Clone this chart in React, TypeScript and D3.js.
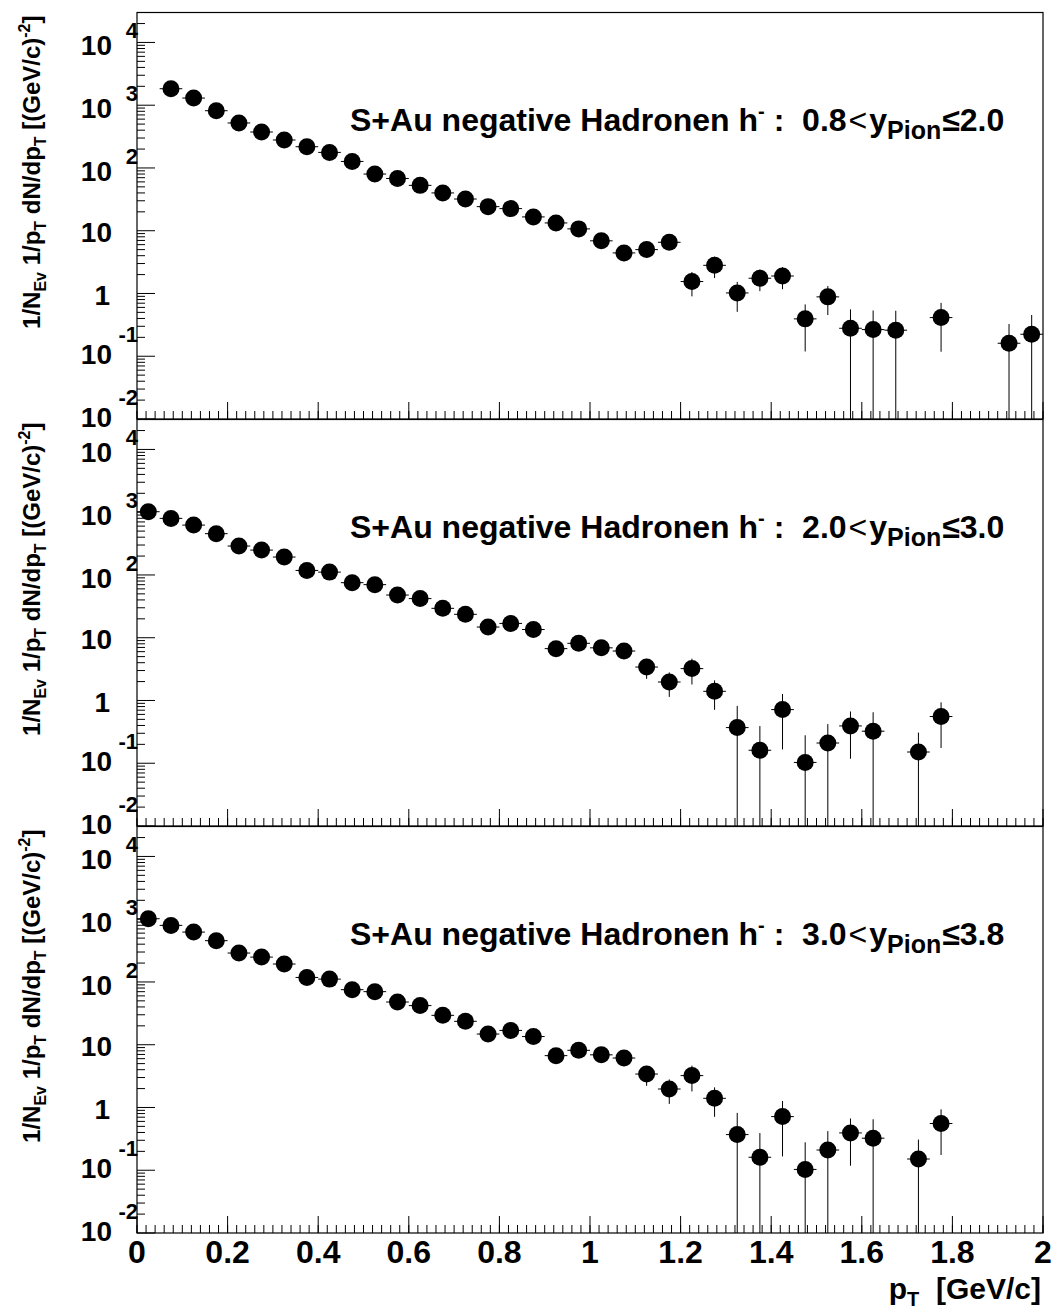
import React from "react";
import * as d3 from "d3";

// ---------- data ----------
const ptTop = [
  0.075, 0.125, 0.175, 0.225, 0.275, 0.325, 0.375, 0.425, 0.475, 0.525,
  0.575, 0.625, 0.675, 0.725, 0.775, 0.825, 0.875, 0.925, 0.975, 1.025,
  1.075, 1.125, 1.175, 1.225, 1.275, 1.325, 1.375, 1.425, 1.475, 1.525,
  1.575, 1.625, 1.675, 1.775, 1.925, 1.975,
];
const valTop = [
  1830, 1300, 817, 521, 374, 279, 218, 177, 127, 80,
  68, 52.8, 40, 32, 24.2, 22.5, 16.6, 13.3, 10.7, 6.9,
  4.43, 5.0, 6.54, 1.55, 2.81, 1.02, 1.75, 1.9, 0.394, 0.883,
  0.279, 0.266, 0.26, 0.413, 0.161, 0.224,
];
const errTop = [
  40, 30, 25, 18, 15, 13, 11, 10, 8, 6,
  5.5, 4.5, 3.8, 3.3, 2.8, 2.6, 2.2, 2.0, 1.8, 1.5,
  1.15, 1.3, 1.5, 0.65, 1.05, 0.51, 0.66, 0.73, 0.275, 0.43,
  0.28, 0.27, 0.27, 0.295, 0.165, 0.23,
];

const ptMid = [
  0.025, 0.075, 0.125, 0.175, 0.225, 0.275, 0.325, 0.375, 0.425, 0.475,
  0.525, 0.575, 0.625, 0.675, 0.725, 0.775, 0.825, 0.875, 0.925, 0.975,
  1.025, 1.075, 1.125, 1.175, 1.225, 1.275, 1.325, 1.375, 1.425, 1.475,
  1.525, 1.575, 1.625, 1.725, 1.775,
];
const valMid = [
  1018, 797, 623, 455, 289, 249, 193, 118, 111, 75.4,
  70.1, 47.9, 42, 29.4, 23.6, 14.8, 16.9, 13.5, 6.7, 8.15,
  6.9, 6.14, 3.41, 1.97, 3.22, 1.4, 0.37, 0.161, 0.716, 0.103,
  0.21, 0.393, 0.324, 0.151, 0.555,
];
const errMid = [
  25, 22, 18, 15, 12, 11, 10, 7, 7, 5.5,
  5.2, 4.2, 3.9, 3.2, 2.9, 2.3, 2.5, 2.2, 1.5, 1.7,
  1.6, 1.5, 1.2, 0.83, 1.42, 0.69, 0.45, 0.23, 0.55, 0.176,
  0.21, 0.275, 0.325, 0.157, 0.38,
];

const ptBot = ptMid;
const valBot = valMid;
const errBot = errMid;

const rangeLow = ["0.8", "2.0", "3.0"];
const rangeHigh = ["2.0", "3.0", "3.8"];

const xTickLabels = ["0", "0.2", "0.4", "0.6", "0.8", "1", "1.2", "1.4", "1.6", "1.8", "2"];
const yDecades = [-2, -1, 0, 1, 2, 3, 4];

// ---------- layout ----------
const W = 1054;
const H = 1309;
const X0 = 137;
const X1 = 1043;
const tops = [12.5, 419.5, 826.5];
const PH = 406.5;
const FONT = "'Liberation Sans', Arial, Helvetica, sans-serif";
const R = 8.5;

const panels = [
  { pt: ptTop, val: valTop, err: errTop },
  { pt: ptMid, val: valMid, err: errMid },
  { pt: ptBot, val: valBot, err: errBot },
];

export default function App() {
  const x = d3.scaleLinear().domain([0, 2]).range([X0, X1]);
  const xMinor = d3.range(0, 101).map((i) => i * 0.02);
  const xMajor = d3.range(0, 11).map((i) => i * 0.2);

  return (
    <div style={{ position: "absolute", left: 0, top: 0 }}>
      <svg width={W} height={H} style={{ display: "block", background: "#fff" }}>
        <defs>
          {tops.map((t, i) => (
            <clipPath id={`clip${i}`} key={i}>
              <rect x={X0} y={t} width={X1 - X0} height={PH} />
            </clipPath>
          ))}
        </defs>
        {panels.map((p, i) => {
          const top = tops[i];
          const bottom = top + PH;
          const y = d3.scaleLog().domain([0.01, 30000]).range([bottom, top]);
          const ymin = 0.01;
          const minorTicks: number[] = [];
          yDecades.forEach((d) => {
            for (let k = 2; k <= 9; k++) {
              const v = k * Math.pow(10, d);
              if (v < 30000) minorTicks.push(v);
            }
          });
          return (
            <g key={i}>
              <rect x={X0} y={top} width={X1 - X0} height={PH} fill="none" stroke="#000" strokeWidth={1.2} />
              {xMinor.map((v, j) => (
                <line key={`xm${j}`} x1={x(v)} x2={x(v)} y1={bottom} y2={bottom - 8} stroke="#000" strokeWidth={1} />
              ))}
              {xMajor.map((v, j) => (
                <line key={`xM${j}`} x1={x(v)} x2={x(v)} y1={bottom} y2={bottom - 17} stroke="#000" strokeWidth={1} />
              ))}
              {minorTicks.map((v, j) => (
                <line key={`ym${j}`} x1={X0} x2={X0 + 8} y1={y(v)} y2={y(v)} stroke="#000" strokeWidth={1} />
              ))}
              {yDecades.map((d) => (
                <line key={`yM${d}`} x1={X0} x2={X0 + 18} y1={y(Math.pow(10, d))} y2={y(Math.pow(10, d))} stroke="#000" strokeWidth={1} />
              ))}
              {yDecades.map((d) => {
                const T = y(Math.pow(10, d));
                if (d === 0) {
                  return (
                    <text key={`yl${d}`} x={110} y={T + 2 + 10} textAnchor="end" fontFamily={FONT} fontWeight="bold" fontSize={28}>1</text>
                  );
                }
                if (d === 1) {
                  return (
                    <text key={`yl${d}`} x={112} y={T + 1 + 10} textAnchor="end" fontFamily={FONT} fontWeight="bold" fontSize={28}>10</text>
                  );
                }
                const c10 = d > 0 ? T + 3 : T - 2;
                const cExp = d > 0 ? T - 12 : T - 22;
                return (
                  <g key={`yl${d}`}>
                    <text x={112} y={c10 + 10} textAnchor="end" fontFamily={FONT} fontWeight="bold" fontSize={28}>10</text>
                    <text x={138} y={cExp + 7.9} textAnchor="end" fontFamily={FONT} fontWeight="bold" fontSize={22}>{String(d)}</text>
                  </g>
                );
              })}
              <text
                transform={`translate(40,${top + 3}) rotate(-90)`}
                textAnchor="end"
                fontFamily={FONT}
                fontWeight="bold"
                fontSize={24}
                style={{ whiteSpace: "pre" }}
              >
                1/N<tspan dy={6} fontSize={16}>Ev</tspan>
                <tspan dy={-6}> 1/p</tspan>
                <tspan dy={6} fontSize={16}>T</tspan>
                <tspan dy={-6}> dN/dp</tspan>
                <tspan dy={6} fontSize={16}>T</tspan>
                <tspan dy={-6}> [(GeV/c)</tspan>
                <tspan dy={-10} fontSize={16}>-2</tspan>
                <tspan dy={10}>]</tspan>
              </text>
              <text x={350} y={top + 118.5} fontFamily={FONT} fontWeight="bold" fontSize={32} style={{ whiteSpace: "pre" }}>
                S+Au negative Hadronen h<tspan dy={-13} fontSize={20}>-</tspan>
                <tspan dy={13}> :  {rangeLow[i]}</tspan>
                <tspan dx={2} fontWeight="normal">&lt;</tspan>
                <tspan dx={2}>y</tspan>
                <tspan dy={8} fontSize={25}>Pion</tspan>
                <tspan dy={-8} dx={1}>≤{rangeHigh[i]}</tspan>
              </text>
              <g clipPath={`url(#clip${i})`}>
                {p.pt.map((pt, j) => {
                  const v = p.val[j];
                  const e = p.err[j];
                  const cx = x(pt);
                  const cy = y(v);
                  const lo = v - e > ymin ? y(v - e) : bottom + 2;
                  const hi = y(v + e);
                  return (
                    <g key={`e${j}`}>
                      <line x1={cx} x2={cx} y1={hi} y2={lo} stroke="#000" strokeWidth={1} />
                      <line x1={x(pt - 0.025)} x2={x(pt + 0.025)} y1={cy} y2={cy} stroke="#000" strokeWidth={1} />
                    </g>
                  );
                })}
                {p.pt.map((pt, j) => (
                  <circle key={`m${j}`} cx={x(pt)} cy={y(p.val[j])} r={R} fill="#000" />
                ))}
              </g>
            </g>
          );
        })}
        {xTickLabels.map((l, j) => (
          <text key={`xl${j}`} x={x(+l)} y={1263} textAnchor="middle" fontFamily={FONT} fontWeight="bold" fontSize={32}>
            {l}
          </text>
        ))}
        <text x={1041} y={1299} textAnchor="end" fontFamily={FONT} fontWeight="bold" fontSize={30} style={{ whiteSpace: "pre" }}>
          p<tspan dy={7} fontSize={20}>T</tspan>
          <tspan dy={-7}>  [GeV/c]</tspan>
        </text>
      </svg>
    </div>
  );
}
